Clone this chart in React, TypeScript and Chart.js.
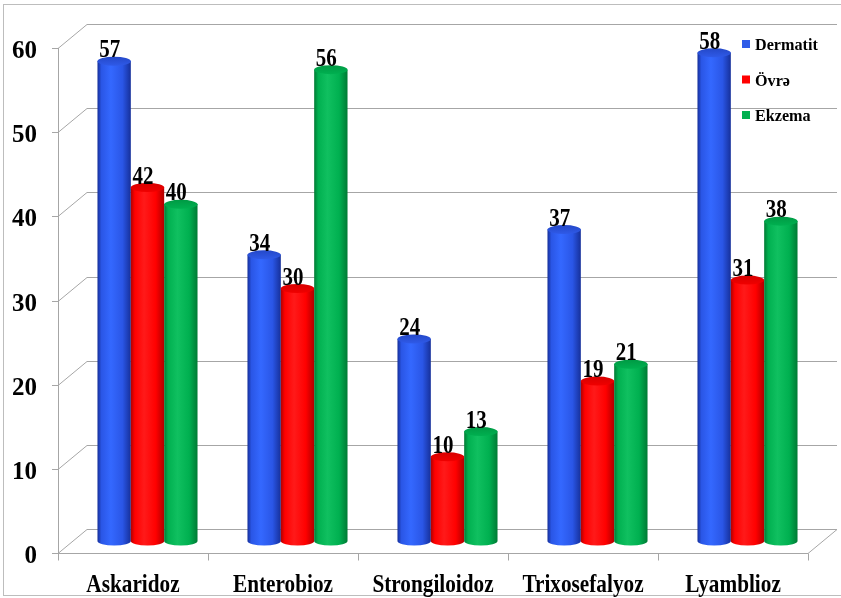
import React, { useEffect, useRef } from "react";
import { Chart, registerables } from "chart.js";

Chart.register(...registerables);

const categories = ["Askaridoz", "Enterobioz", "Strongiloidoz", "Trixosefalyoz", "Lyamblioz"];
const dermatit = [57, 34, 24, 37, 58];
const ovre = [42, 30, 10, 19, 31];
const ekzema = [40, 56, 13, 21, 38];
const seriesNames = ["Dermatit", "Övrə", "Ekzema"];
const yTicks = [0, 10, 20, 30, 40, 50, 60];

const palettes = [
  { dark: "#16309a", light: "#3468ff", mid: "#2a56e6", cap: "#2448c8", capLight: "#2f5ae8", legend: "#2f5ce8" },
  { dark: "#b00000", light: "#ff1a1a", mid: "#ff0000", cap: "#d80000", capLight: "#f00000", legend: "#ff0000" },
  { dark: "#007a34", light: "#10c060", mid: "#00b050", cap: "#009a44", capLight: "#00b050", legend: "#00b050" },
];

const FONT = "'Liberation Serif', 'Times New Roman', serif";
const DX = 29;
const DY = -24;

function drawCylinder(ctx: CanvasRenderingContext2D, cx: number, w: number, yTop: number, yBot: number, ry: number, p: any) {
  const l = cx - w / 2;
  const r = cx + w / 2;
  const g = ctx.createLinearGradient(l, 0, r, 0);
  g.addColorStop(0, p.dark);
  g.addColorStop(0.12, p.mid);
  g.addColorStop(0.4, p.light);
  g.addColorStop(0.75, p.mid);
  g.addColorStop(1, p.dark);
  ctx.beginPath();
  ctx.moveTo(l, yTop);
  ctx.lineTo(l, yBot);
  ctx.ellipse(cx, yBot, w / 2, ry, 0, Math.PI, 0, true);
  ctx.lineTo(r, yTop);
  ctx.closePath();
  ctx.fillStyle = g;
  ctx.fill();
  const cg = ctx.createLinearGradient(0, yTop - ry, 0, yTop + ry);
  cg.addColorStop(0, p.cap);
  cg.addColorStop(1, p.capLight);
  ctx.beginPath();
  ctx.ellipse(cx, yTop, w / 2, ry, 0, 0, Math.PI * 2);
  ctx.fillStyle = cg;
  ctx.fill();
}

function squeezedText(ctx: CanvasRenderingContext2D, text: string, x: number, y: number, sx: number, align: CanvasTextAlign) {
  ctx.save();
  ctx.translate(x, y);
  ctx.scale(sx, 1);
  ctx.textAlign = align;
  ctx.fillText(text, 0, 0);
  ctx.restore();
}

const cylinderPlugin = {
  id: "cyl3d",
  beforeDatasetsDraw(chart: any) {
    const ctx: CanvasRenderingContext2D = chart.ctx;
    const { left, right, bottom } = chart.chartArea;
    const ys = chart.scales.y;
    const xs = chart.scales.x;
    ctx.save();
    ctx.strokeStyle = "#bdbdbd";
    ctx.lineWidth = 1;
    ctx.strokeRect(3.5, 4.5, 840, 591);
    ctx.strokeStyle = "#a6a6a6";
    ctx.beginPath();
    for (const v of yTicks) {
      const y = Math.round(ys.getPixelForValue(v)) + 0.5;
      ctx.moveTo(left - 6, y);
      ctx.lineTo(left, y);
      ctx.moveTo(left, y);
      ctx.lineTo(left + DX, y + DY);
      ctx.lineTo(837, y + DY);
    }
    ctx.moveTo(left + 0.5, Math.round(ys.getPixelForValue(60)));
    ctx.lineTo(left + 0.5, bottom);
    const yb = Math.round(bottom) + 0.5;
    ctx.moveTo(left, yb);
    ctx.lineTo(right, yb);
    ctx.lineTo(right + DX, yb + DY);
    const n = categories.length;
    const cw = (right - left) / n;
    for (let i = 0; i <= n; i++) {
      const x = Math.round(left + i * cw) + 0.5;
      ctx.moveTo(x, yb);
      ctx.lineTo(x, yb + 7);
    }
    ctx.stroke();

    // axis labels
    ctx.fillStyle = "#000";
    ctx.textBaseline = "alphabetic";
    ctx.font = `bold 25px ${FONT}`;
    for (const v of yTicks) {
      const y = ys.getPixelForValue(v);
      squeezedText(ctx, String(v), 37, y + 10, 1, "right");
    }
    categories.forEach((c, i) => {
      const x = xs.getPixelForTick(i);
      squeezedText(ctx, c, x, 592, 0.85, "center");
    });
    ctx.restore();
  },
  afterDatasetsDraw(chart: any) {
    const ctx: CanvasRenderingContext2D = chart.ctx;
    const ys = chart.scales.y;
    ctx.save();
    chart.data.datasets.forEach((ds: any, di: number) => {
      const meta = chart.getDatasetMeta(di);
      meta.data.forEach((bar: any) => {
        const cx = bar.x + DX / 2;
        const yTop = bar.y + DY / 2;
        const yBot = ys.getPixelForValue(0) + DY / 2;
        drawCylinder(ctx, cx, bar.width, yTop, yBot, 4.5, palettes[di]);
      });
    });
    ctx.fillStyle = "#000";
    ctx.font = `bold 25px ${FONT}`;
    ctx.textBaseline = "alphabetic";
    chart.data.datasets.forEach((ds: any, di: number) => {
      const meta = chart.getDatasetMeta(di);
      meta.data.forEach((bar: any, i: number) => {
        const cx = bar.x + DX / 2 - 4.5;
        const yTop = bar.y + DY / 2;
        squeezedText(ctx, String(ds.data[i]), cx, yTop - 4, 0.84, "center");
      });
    });
    ctx.font = `bold 17px ${FONT}`;
    seriesNames.forEach((name, i) => {
      const cy = 44 + i * 35.5;
      ctx.fillStyle = palettes[i].legend;
      ctx.fillRect(742, cy - 4, 8, 8);
      ctx.fillStyle = "#000";
      squeezedText(ctx, name, 755, cy + 6, 0.95, "left");
    });
    ctx.restore();
  },
};

export default function App() {
  const ref = useRef<HTMLCanvasElement | null>(null);
  useEffect(() => {
    document.body.style.margin = "0";
    const canvas = ref.current;
    if (!canvas) return;
    const mk = (label: string, data: number[]) => ({
      label,
      data,
      backgroundColor: "rgba(0,0,0,0)",
      borderWidth: 0,
      categoryPercentage: 0.667,
      barPercentage: 1.0,
    });
    const chart = new Chart(canvas, {
      type: "bar",
      data: {
        labels: categories,
        datasets: [mk(seriesNames[0], dermatit), mk(seriesNames[1], ovre), mk(seriesNames[2], ekzema)],
      },
      options: {
        responsive: false,
        animation: false,
        layout: { padding: { top: 48, right: 33, left: 58, bottom: 45 } },
        plugins: { legend: { display: false }, tooltip: { enabled: false } },
        scales: {
          y: { display: false, min: 0, max: 60 },
          x: { display: false },
        },
      },
      plugins: [cylinderPlugin],
    });
    return () => chart.destroy();
  }, []);
  return <canvas ref={ref} width={841} height={598} style={{ display: "block" }} />;
}
